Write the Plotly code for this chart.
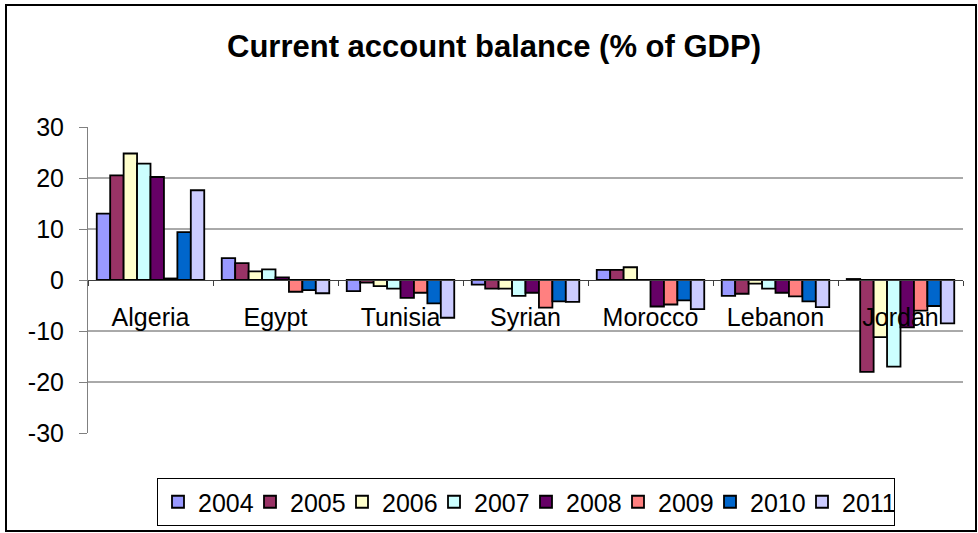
import plotly.graph_objects as go

countries = ["Algeria", "Egypt", "Tunisia", "Syrian", "Morocco", "Lebanon", "Jordan"]
years = ["2004", "2005", "2006", "2007", "2008", "2009", "2010", "2011"]

v2004 = [13.0, 4.3, -2.2, -0.9, 2.0, -3.1, 0.2]
v2005 = [20.5, 3.3, -0.5, -1.7, 2.0, -2.7, -18.0]
v2006 = [24.8, 1.7, -1.2, -1.7, 2.5, -0.7, -11.2]
v2007 = [22.8, 2.1, -1.7, -3.1, 0.0, -1.7, -17.0]
v2008 = [20.2, 0.5, -3.5, -2.5, -5.2, -2.5, -9.3]
v2009 = [0.3, -2.3, -2.5, -5.4, -4.8, -3.2, -6.0]
v2010 = [9.4, -2.0, -4.6, -4.2, -4.0, -4.2, -5.1]
v2011 = [17.6, -2.6, -7.4, -4.3, -5.7, -5.3, -8.5]

series_values = [v2004, v2005, v2006, v2007, v2008, v2009, v2010, v2011]
colors = ["#9999FF", "#993366", "#FFFFCC", "#CCFFFF", "#660066", "#FF8080", "#0066CC", "#CCCCFF"]

y_ticks = [-30, -20, -10, 0, 10, 20, 30]
y_tick_labels = ["-30", "-20", "-10", "0", "10", "20", "30"]
grid_values = [-20, -10, 10, 20]

FONT = "Liberation Sans, Arial, sans-serif"

fig = go.Figure()
for yr, vals, col in zip(years, series_values, colors):
    fig.add_trace(go.Bar(
        x=countries, y=vals, name=yr,
        marker=dict(color=col, line=dict(color="black", width=1.8)),
    ))

# plot area pixel geometry
W, H = 978, 533
L, R, T, B = 88, 963, 127, 433
pw, ph = R - L, B - T

def px_x(x):
    return (x - L) / pw

def px_y(y):
    return (B - y) / ph

shapes = []
for g in grid_values:
    shapes.append(dict(type="line", xref="paper", yref="y", x0=0, x1=1, y0=g, y1=g,
                       line=dict(color="#555555", width=1), layer="below"))
# outer chart border
shapes.append(dict(type="rect", xref="paper", yref="paper",
                   x0=px_x(6), x1=px_x(976), y0=px_y(531), y1=px_y(5),
                   line=dict(color="black", width=2), layer="below"))

fig.update_layout(
    width=W, height=H,
    margin=dict(l=L, r=W - R, t=T, b=H - B, autoexpand=False),
    paper_bgcolor="white", plot_bgcolor="white",
    font=dict(family=FONT, size=25, color="black"),
    title=dict(text="<b>Current account balance (% of GDP)</b>",
               x=494 / W, xanchor="center", xref="container",
               y=1 - 46 / H, yanchor="middle", yref="container",
               font=dict(family=FONT, size=31, color="black")),
    barmode="group", bargap=0.14, bargroupgap=0.0,
    showlegend=True,
    legend=dict(orientation="h", x=px_x(526), xanchor="center",
                y=px_y(478), yanchor="top",
                bordercolor="black", borderwidth=1, bgcolor="white",
                font=dict(family=FONT, size=25, color="black"),
                itemwidth=30, entrywidth=47, entrywidthmode="pixels",
                tracegroupgap=0, traceorder="normal"),
    shapes=shapes,
)

fig.update_yaxes(range=[-30, 30], tickvals=y_ticks, ticktext=y_tick_labels,
                 showgrid=False, zeroline=False,
                 showline=True, linecolor="#808080", linewidth=1,
                 ticks="outside", ticklen=8, tickcolor="#808080",
                 ticklabelstandoff=10,
                 tickfont=dict(family=FONT, size=25, color="black"))
fig.update_xaxes(anchor="free", position=0.5, showgrid=False, zeroline=False,
                 showline=True, linecolor="#404040", linewidth=1,
                 ticks="outside", ticklen=5, tickcolor="#404040", tickson="boundaries",
                 ticklabelstandoff=15,
                 tickfont=dict(family=FONT, size=25, color="black"))

fig.write_html("out.html", config={"displayModeBar": False},
               post_script="document.body.style.margin='0';")
